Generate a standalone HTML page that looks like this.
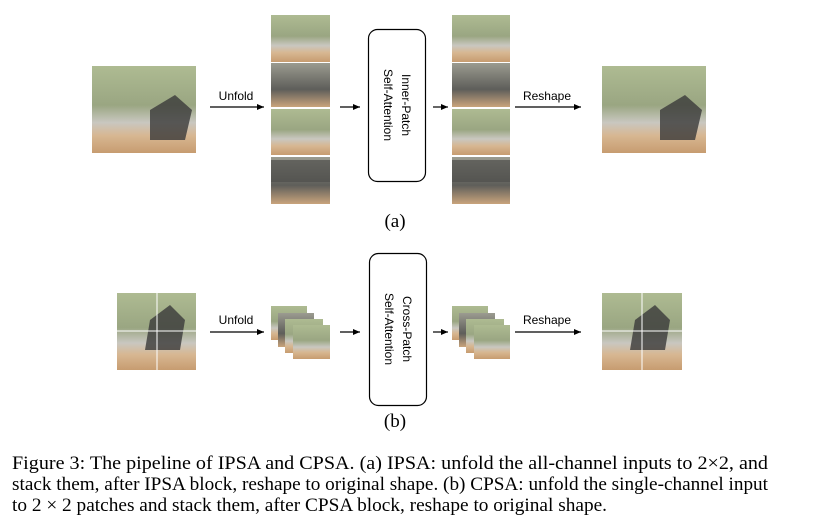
<!DOCTYPE html>
<html><head><meta charset="utf-8"><style>
html,body{margin:0;padding:0;background:#fff;width:827px;height:522px;overflow:hidden}
svg{display:block}
.s{font-family:"Liberation Sans",sans-serif;font-size:12px;fill:#000}
.c{font-family:"Liberation Serif",serif;font-size:19px;fill:#000}
</style></head><body>
<svg width="827" height="522" viewBox="0 0 827 522" xmlns="http://www.w3.org/2000/svg">
<defs>
<linearGradient id="g" x1="0" y1="0" x2="0" y2="1">
<stop offset="0" stop-color="#aebb92"/><stop offset="0.45" stop-color="#9aa682"/>
<stop offset="0.65" stop-color="#c9c7c0"/><stop offset="0.8" stop-color="#d7b792"/><stop offset="1" stop-color="#c79c70"/>
</linearGradient>
<linearGradient id="d" x1="0" y1="0" x2="0" y2="1">
<stop offset="0" stop-color="#9b9b90"/><stop offset="0.6" stop-color="#5e5e5a"/><stop offset="1" stop-color="#c9a47c"/>
</linearGradient>
<marker id="a" markerWidth="8" markerHeight="8" refX="7" refY="4" orient="auto" markerUnits="userSpaceOnUse">
<path d="M0,1 L7,4 L0,7 z" fill="#000"/></marker>
</defs>
<rect x="92" y="66" width="104" height="87" fill="url(#g)"/>
<path d="M150,110 L175,95 L192,110 L185,140 L150,140 z" fill="#3a3a3a" opacity="0.8"/>
<rect x="271" y="15" width="59" height="47" fill="url(#g)"/>
<rect x="271" y="63" width="59" height="44" fill="url(#d)"/>
<rect x="271" y="109" width="59" height="46" fill="url(#g)"/>
<rect x="271" y="157" width="59" height="47" fill="url(#d)"/>
<rect x="271" y="160" width="59" height="22" fill="#4f4f4c" opacity="0.7"/>
<rect x="452" y="15" width="58" height="47" fill="url(#g)"/>
<rect x="452" y="63" width="58" height="44" fill="url(#d)"/>
<rect x="452" y="109" width="58" height="46" fill="url(#g)"/>
<rect x="452" y="157" width="58" height="47" fill="url(#d)"/>
<rect x="452" y="160" width="58" height="22" fill="#4f4f4c" opacity="0.7"/>
<rect x="602" y="66" width="104" height="87" fill="url(#g)"/>
<path d="M660,110 L685,95 L702,110 L695,140 L660,140 z" fill="#3a3a3a" opacity="0.8"/>
<line x1="210" y1="107" x2="264" y2="107" stroke="#000" stroke-width="1.2" marker-end="url(#a)"/>
<text x="236" y="100" class="s" text-anchor="middle">Unfold</text>
<line x1="340" y1="107" x2="360" y2="107" stroke="#000" stroke-width="1.2" marker-end="url(#a)"/>
<rect x="368.5" y="29.5" width="57" height="152" rx="9" fill="#fff" stroke="#000" stroke-width="1.2"/>
<text class="s" font-size="16" text-anchor="middle" transform="translate(402,105) rotate(90)">Inner-Patch</text>
<text class="s" font-size="16" text-anchor="middle" transform="translate(384,105) rotate(90)">Self-Attention</text>
<line x1="433" y1="107" x2="448" y2="107" stroke="#000" stroke-width="1.2" marker-end="url(#a)"/>
<line x1="515" y1="107" x2="581" y2="107" stroke="#000" stroke-width="1.2" marker-end="url(#a)"/>
<text x="547" y="100" class="s" text-anchor="middle">Reshape</text>
<text x="395" y="227" class="c" font-size="16" text-anchor="middle">(a)</text>
<rect x="117" y="293" width="79" height="77" fill="url(#g)"/>
<path d="M150,320 L170,305 L185,320 L180,350 L145,350 z" fill="#3a3a3a" opacity="0.8"/>
<line x1="157" y1="293" x2="157" y2="370" stroke="#fff" stroke-width="1"/>
<line x1="117" y1="331" x2="196" y2="331" stroke="#fff" stroke-width="1"/>
<rect x="271" y="306" width="36" height="34" fill="url(#g)"/>
<rect x="278" y="313" width="36" height="34" fill="url(#d)"/>
<rect x="285" y="319" width="38" height="34" fill="url(#g)"/>
<rect x="293" y="325" width="37" height="34" fill="url(#g)"/>
<rect x="452" y="306" width="36" height="34" fill="url(#g)"/>
<rect x="459" y="313" width="36" height="34" fill="url(#d)"/>
<rect x="466" y="319" width="38" height="34" fill="url(#g)"/>
<rect x="474" y="325" width="36" height="34" fill="url(#g)"/>
<rect x="602" y="293" width="80" height="77" fill="url(#g)"/>
<path d="M635,320 L655,305 L670,320 L665,350 L630,350 z" fill="#3a3a3a" opacity="0.8"/>
<line x1="642" y1="293" x2="642" y2="370" stroke="#fff" stroke-width="1"/>
<line x1="602" y1="331" x2="682" y2="331" stroke="#fff" stroke-width="1"/>
<line x1="210" y1="332" x2="264" y2="332" stroke="#000" stroke-width="1.2" marker-end="url(#a)"/>
<text x="236" y="324" class="s" text-anchor="middle">Unfold</text>
<line x1="340" y1="332" x2="360" y2="332" stroke="#000" stroke-width="1.2" marker-end="url(#a)"/>
<rect x="369.5" y="253.5" width="57" height="152" rx="9" fill="#fff" stroke="#000" stroke-width="1.2"/>
<text class="s" font-size="16" text-anchor="middle" transform="translate(403,329) rotate(90)">Cross-Patch</text>
<text class="s" font-size="16" text-anchor="middle" transform="translate(385,329) rotate(90)">Self-Attention</text>
<line x1="433" y1="332" x2="448" y2="332" stroke="#000" stroke-width="1.2" marker-end="url(#a)"/>
<line x1="515" y1="332" x2="581" y2="332" stroke="#000" stroke-width="1.2" marker-end="url(#a)"/>
<text x="547" y="324" class="s" text-anchor="middle">Reshape</text>
<text x="395" y="427" class="c" font-size="16" text-anchor="middle">(b)</text>
<text x="12" y="469" class="c" textLength="756" lengthAdjust="spacingAndGlyphs">Figure 3:  The pipeline of IPSA and CPSA. (a) IPSA: unfold the all-channel inputs to 2×2, and</text>
<text x="12" y="490" class="c" textLength="756" lengthAdjust="spacingAndGlyphs">stack them, after IPSA block, reshape to original shape. (b) CPSA: unfold the single-channel input</text>
<text x="12" y="511" class="c" textLength="595" lengthAdjust="spacingAndGlyphs">to 2 × 2 patches and stack them, after CPSA block, reshape to original shape.</text>
</svg>
</body></html>
